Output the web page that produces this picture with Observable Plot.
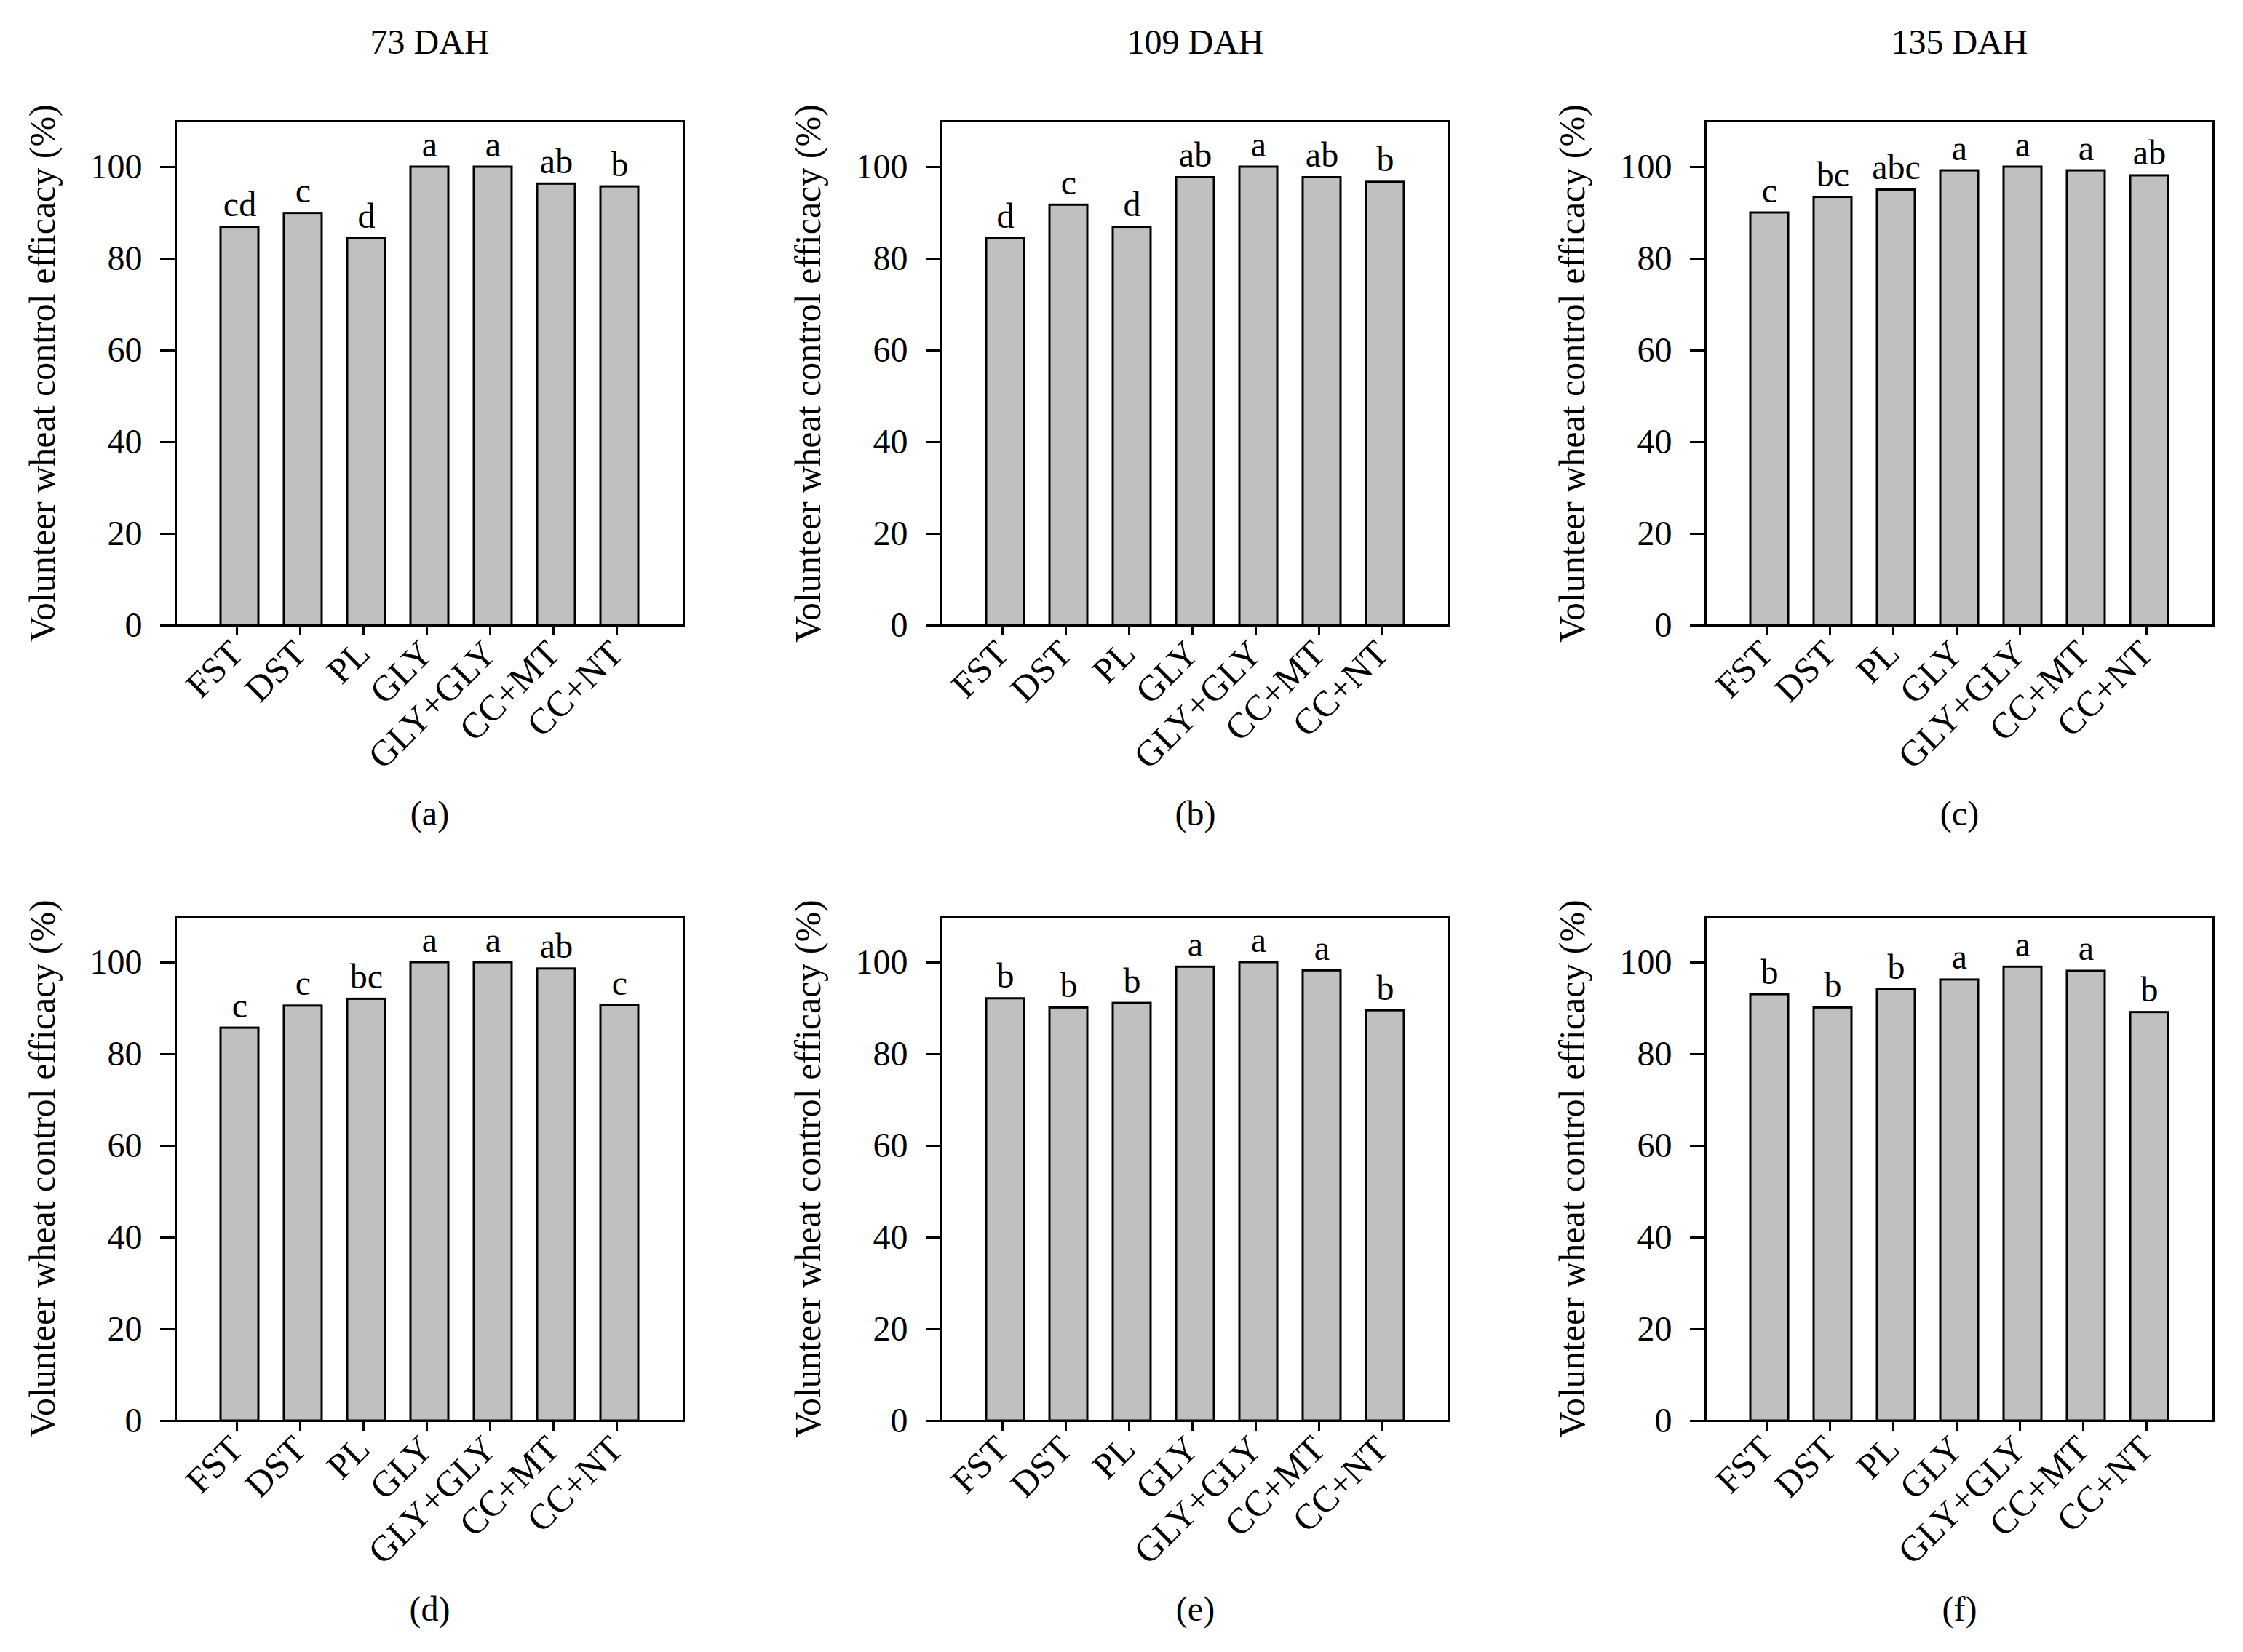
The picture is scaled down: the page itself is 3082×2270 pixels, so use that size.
<!DOCTYPE html>
<html>
<head>
<meta charset="utf-8">
<script src="https://cdn.jsdelivr.net/npm/d3@7"></script>
<script src="https://cdn.jsdelivr.net/npm/@observablehq/plot@0.6"></script>
<style>
  html, body { margin: 0; padding: 0; background: white; overflow: hidden; }
  #wrap { position: relative; width: 3082px; height: 2270px; background: white; }
  .panel { position: absolute; }
  .panel svg, .panel svg text { font-family: 'Liberation Serif', 'Times New Roman', serif !important; }
</style>
</head>
<body>
<div id="wrap"></div>
<script>
// ---- data ----
const treatments = ["FST", "DST", "PL", "GLY", "GLY+GLY", "CC+MT", "CC+NT"];
const panelTitles = ["73 DAH", "109 DAH", "135 DAH"];
const panelCaptions = ["(a)", "(b)", "(c)", "(d)", "(e)", "(f)"];
const yAxisLabel = "Volunteer wheat control efficacy (%)";
const yTicks = [0, 20, 40, 60, 80, 100];

const efficacyA = [86.9, 89.9, 84.4, 100, 100, 96.3, 95.7];
const lettersA  = ["cd", "c", "d", "a", "a", "ab", "b"];
const efficacyB = [84.4, 91.7, 86.9, 97.7, 100, 97.7, 96.7];
const lettersB  = ["d", "c", "d", "ab", "a", "ab", "b"];
const efficacyC = [90.0, 93.4, 95.0, 99.2, 100, 99.2, 98.1];
const lettersC  = ["c", "bc", "abc", "a", "a", "a", "ab"];
const efficacyD = [85.7, 90.5, 92.0, 100, 100, 98.6, 90.6];
const lettersD  = ["c", "c", "bc", "a", "a", "ab", "c"];
const efficacyE = [92.1, 90.1, 91.1, 99.0, 100, 98.2, 89.5];
const lettersE  = ["b", "b", "b", "a", "a", "a", "b"];
const efficacyF = [93.0, 90.1, 94.1, 96.2, 99.0, 98.1, 89.1];
const lettersF  = ["b", "b", "b", "a", "a", "a", "b"];

const panelValues = [efficacyA, efficacyB, efficacyC, efficacyD, efficacyE, efficacyF];
const panelLetters = [lettersA, lettersB, lettersC, lettersD, lettersE, lettersF];

// ---- drawing ----
const FONT = "Liberation Serif";

function panel(values, letters, title, caption) {
  const data = treatments.map((t, i) => ({t, v: values[i], l: letters[i]}));
  const marks = [
    Plot.barY(data, {x: "t", y: "v", fill: "#c0c0c0", stroke: "black", strokeWidth: 3}),
    Plot.text(data, {x: "t", y: "v", text: "l", lineAnchor: "bottom", dy: -15, fontSize: 48, fontFamily: FONT}),
    Plot.frame({stroke: "black", strokeWidth: 3}),
    Plot.axisY({ticks: yTicks, tickSize: 21, tickPadding: 25, strokeWidth: 3, label: null, fontSize: 48, fontFamily: FONT, fontVariant: "normal"}),
    Plot.axisX({tickRotate: -45, tickSize: 14, tickPadding: 16, dx: -4, strokeWidth: 3, label: null, fontSize: 50, fontFamily: FONT}),
    Plot.text([caption], {text: d => d, frameAnchor: "bottom", lineAnchor: "bottom", dy: 274, fontSize: 48, fontFamily: FONT}),
    Plot.text([yAxisLabel], {text: d => d, frameAnchor: "left", textAnchor: "middle", rotate: -90, dx: -183, fontSize: 50, fontFamily: FONT})
  ];
  if (title) marks.push(Plot.text([title], {text: d => d, frameAnchor: "top", lineAnchor: "bottom", dy: -93, fontSize: 48, fontFamily: FONT}));
  return Plot.plot({
    width: 980,
    height: 1135,
    marginLeft: 241,
    marginRight: 41,
    marginTop: 166,
    marginBottom: 276,
    style: {fontFamily: FONT, fontSize: "48px", color: "black", background: "transparent", overflow: "visible"},
    x: {domain: treatments, paddingInner: 0.4, paddingOuter: 0.7, label: null, axis: null},
    y: {domain: [0, 110], label: null, axis: null},
    marks
  });
}

const wrap = document.getElementById("wrap");
const lefts = [0, 1052, 2102];
const tops = [0, 1093];
for (let k = 0; k < 6; k++) {
  const row = Math.floor(k / 3), col = k % 3;
  const div = document.createElement("div");
  div.className = "panel";
  div.style.left = lefts[col] + "px";
  div.style.top = tops[row] + "px";
  div.appendChild(panel(panelValues[k], panelLetters[k], row === 0 ? panelTitles[col] : null, panelCaptions[k]));
  wrap.appendChild(div);
}
</script>
</body>
</html>
